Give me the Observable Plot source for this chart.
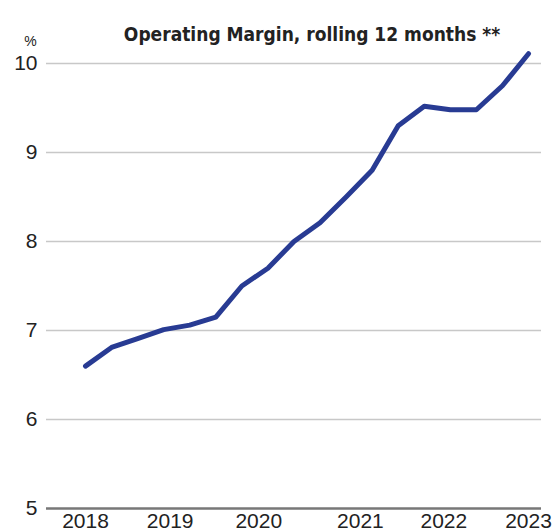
<!DOCTYPE html>
<html>
<head>
<meta charset="utf-8">
<script src="https://cdn.jsdelivr.net/npm/d3@7"></script>
<script src="https://cdn.jsdelivr.net/npm/@observablehq/plot@0.6"></script>
<style>
  html, body { margin: 0; padding: 0; background: #fff; }
  #chart svg { display: block; }
</style>
</head>
<body>
<div id="chart"></div>
<script>
// Quarterly observations (index 0..17), operating margin in %
const quarterIndex = [0, 1, 2, 3, 4, 5, 6, 7, 8, 9, 10, 11, 12, 13, 14, 15, 16, 17];
const marginValues = [6.60, 6.81, 6.91, 7.01, 7.06, 7.15, 7.50, 7.70, 8.00, 8.21, 8.50, 8.80, 9.30, 9.52, 9.48, 9.48, 9.75, 10.11];
const yearTickAt = [0, 3.25, 6.65, 10.55, 13.75, 17];
const yearLabels = ["2018", "2019", "2020", "2021", "2022", "2023"];
const yTicks = [5, 6, 7, 8, 9, 10];
const gridValues = [6, 7, 8, 9, 10];
const titleText = "Operating Margin, rolling 12 months **";
const unitText = "%";

const data = quarterIndex.map((q, i) => ({q, v: marginValues[i]}));

const chart = Plot.plot({
  width: 552,
  height: 532,
  marginTop: 63,
  marginBottom: 24,
  marginLeft: 46,
  marginRight: 11,
  style: {fontFamily: "'Liberation Sans', Arial, sans-serif", fontSize: "21px", color: "#222", background: "#fff"},
  x: {domain: [0, 17], range: [85, 528]},
  y: {domain: [5, 10]},
  marks: [
    Plot.ruleY(gridValues, {stroke: "#c8c8c8", strokeWidth: 1.5}),
    Plot.ruleY([5], {stroke: "#777", strokeWidth: 2.5}),
    Plot.axisY(yTicks, {tickSize: 0, tickPadding: 9, label: null, fontSize: 21, tickFormat: (d) => String(d)}),
    Plot.axisX(yearTickAt, {tickSize: 0, tickPadding: 5, label: null, fontSize: 21,
      tickFormat: (d) => yearLabels[yearTickAt.indexOf(d)]}),
    Plot.line(data, {x: "q", y: "v", stroke: "#283b93", strokeWidth: 5, strokeLinecap: "round", strokeLinejoin: "round"}),
    Plot.text([titleText], {frameAnchor: "top", dy: -36, dx: 18, text: (d) => d, fontSize: 19, fontWeight: "bold",
      fontFamily: "'DejaVu Sans Condensed', 'DejaVu Sans', sans-serif", fill: "#222"}),
    Plot.text([unitText], {frameAnchor: "top-left", dx: -16, dy: -27, text: (d) => d, fontSize: 14, fill: "#222", textAnchor: "middle"})
  ]
});
document.getElementById("chart").append(chart);
</script>
</body>
</html>
